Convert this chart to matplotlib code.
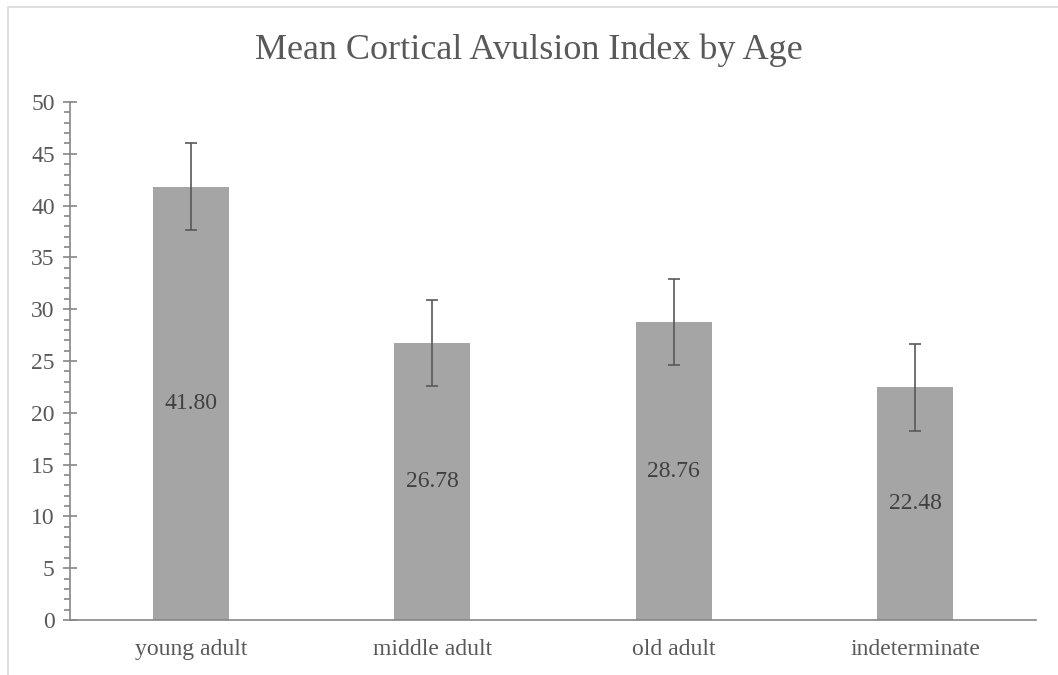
import numpy as np
import matplotlib

matplotlib.use("agg")
import matplotlib.pyplot as plt
from matplotlib.ticker import MultipleLocator
from matplotlib.patches import Rectangle

categories = ["young adult", "middle adult", "old adult", "indeterminate"]
means = [41.80, 26.78, 28.76, 22.48]
errors = [4.2, 4.15, 4.15, 4.2]

plt.rcParams["font.family"] = ["Liberation Serif", "DejaVu Serif"]

fig = plt.figure(figsize=(10.58, 6.75), dpi=100)
ax = fig.add_axes([70 / 1058, 55 / 675, 966 / 1058, 518 / 675])

# light frame around the chart area (top/left visible)
fig.patches.append(Rectangle((8 / 1058, -0.05), 1.2, 1 - 7 / 675 + 0.05,
                             transform=fig.transFigure, fill=False,
                             edgecolor="#d9d9d9", linewidth=1.2))

x = np.arange(len(categories))
ax.bar(x, means, width=0.315, color="#a5a5a5", zorder=2)
ax.errorbar(x, means, yerr=errors, fmt="none", ecolor="#595959",
            elinewidth=1.2, capsize=4.5, capthick=1.2, zorder=3)

for xi, m in zip(x, means):
    ax.text(xi, m / 2, f"{m:.2f}", ha="center", va="center",
            fontsize=17, color="#404040", zorder=4)

ax.set_xlim(-0.5, 3.5)
ax.set_ylim(0, 50)
ax.set_xticks(x)
ax.set_xticklabels(categories)
ax.yaxis.set_major_locator(MultipleLocator(5))
ax.yaxis.set_minor_locator(MultipleLocator(1))

for s in ["top", "right"]:
    ax.spines[s].set_visible(False)
for s in ["left", "bottom"]:
    ax.spines[s].set_color("#868686")
    ax.spines[s].set_linewidth(1.2)

ax.tick_params(axis="x", length=0, pad=14, labelsize=17, labelcolor="#595959")
ax.tick_params(axis="y", which="major", direction="inout", length=10,
               width=1.2, color="#868686", pad=6, labelsize=17,
               labelcolor="#595959")
ax.tick_params(axis="y", which="minor", direction="out", length=4,
               width=1.2, color="#868686")

fig.text(0.5, 1 - 50 / 675, "Mean Cortical Avulsion Index by Age",
         ha="center", va="center", fontsize=26, color="#595959")

fig.savefig("out.png", dpi=100)
